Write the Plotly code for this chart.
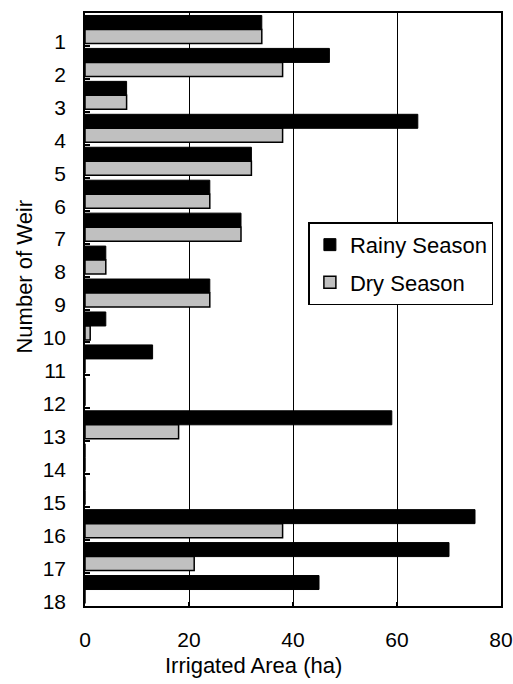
import plotly.graph_objects as go

weirs = [str(i) for i in range(1, 19)]
rainy = [34, 47, 8, 64, 32, 24, 30, 4, 24, 4, 13, 0, 59, 0, 0, 75, 70, 45]
dry = [34, 38, 8, 38, 32, 24, 30, 4, 24, 1, 0, 0, 18, 0, 0, 38, 21, 0]
x_ticks = [0, 20, 40, 60, 80]

font = "Liberation Sans, Arial, sans-serif"

fig = go.Figure()
fig.add_trace(go.Bar(
    y=weirs, x=rainy, orientation="h", name="Rainy Season", legendgroup="r",
    marker=dict(color="black", line=dict(color="black", width=1)),
))
fig.add_trace(go.Bar(
    y=weirs, x=dry, orientation="h", name="Dry Season", legendgroup="d",
    marker=dict(color="#c0c0c0", line=dict(color="black", width=1.5)),
))

fig.update_layout(
    width=513, height=684,
    margin=dict(l=85, r=12, t=13, b=78),
    plot_bgcolor="white", paper_bgcolor="white",
    barmode="group", bargap=0.15, bargroupgap=0.0,
    font=dict(family=font, size=21, color="black"),
    showlegend=True,
    legend=dict(
        x=0.537, y=0.647, xanchor="left", yanchor="top",
        bgcolor="white", bordercolor="black", borderwidth=1.5,
        font=dict(size=22), traceorder="grouped", tracegroupgap=6,
        itemwidth=30,
    ),
    xaxis=dict(
        range=[0, 80], tickvals=x_ticks, automargin=False,
        showgrid=True, gridcolor="black", gridwidth=1,
        showline=True, linecolor="black", linewidth=1.5, mirror=True,
        ticks="inside", ticklen=4, tickcolor="black", tickwidth=1.5,
        zeroline=False, ticklabeloverflow="allow",
        ticklabelstandoff=14,
    ),
    yaxis=dict(
        type="category", autorange="reversed", automargin=False,
        showline=True, linecolor="black", linewidth=1.5, mirror=True,
        ticks="inside", ticklen=5, tickson="boundaries", tickcolor="black",
        tickwidth=1.5,
        showgrid=False,
        ticklabelshift=-12,
        ticklabelstandoff=13,
    ),
    annotations=[
        dict(text="Irrigated Area (ha)", xref="paper", yref="paper",
             x=0.406, y=-0.101, xanchor="center", yanchor="middle",
             showarrow=False, font=dict(size=22)),
        dict(text="Number of Weir", xref="paper", yref="paper",
             x=-0.146, y=0.556, xanchor="center", yanchor="middle",
             textangle=-90, showarrow=False, font=dict(size=22)),
    ],
)

fig.write_html(
    "out.html",
    config={"displayModeBar": False},
    post_script="document.body.style.margin='0';document.body.style.overflow='hidden';",
)
